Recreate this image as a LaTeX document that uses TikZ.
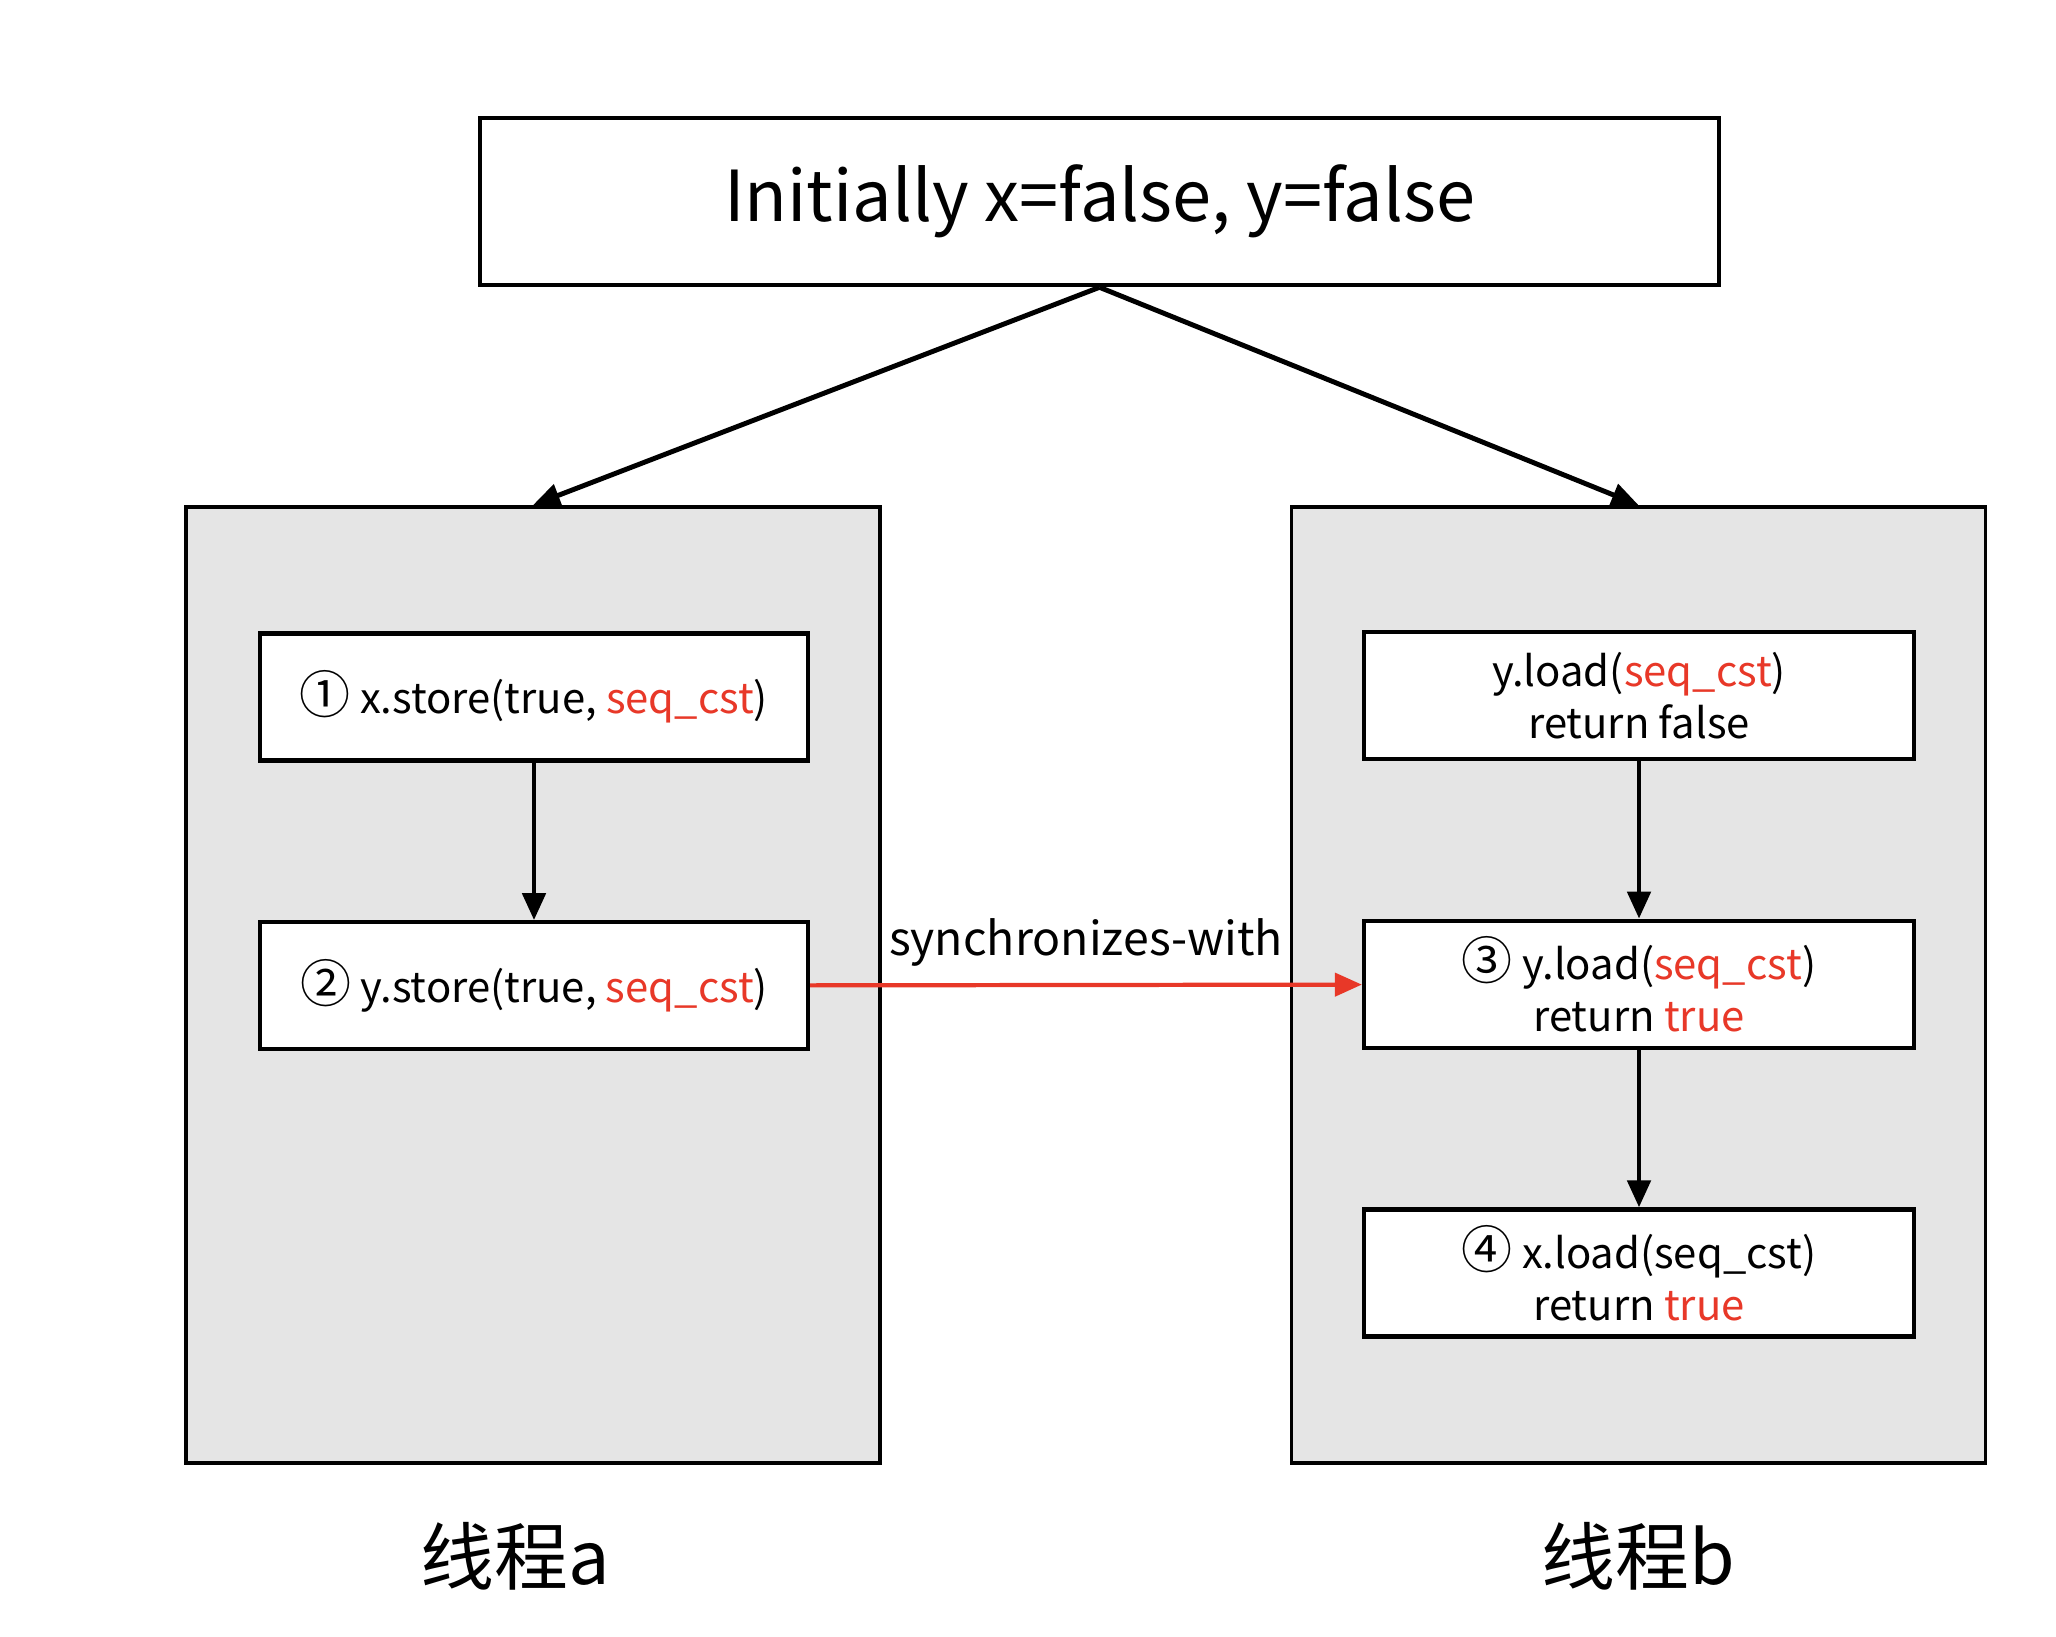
\documentclass[tikz,border=0pt]{standalone}
\usepackage{fontspec}
\setmainfont{Noto Sans CJK SC}
\usepackage{xcolor}
\usetikzlibrary{arrows.meta,positioning}
\definecolor{seqred}{RGB}{232,56,40}
\definecolor{thrgray}{RGB}{229,229,229}
\newcommand{\sq}[1]{\textcolor{seqred}{#1}}
\newcommand{\cnum}[1]{{\fontsize{14.5}{14.5}\selectfont #1}}

\begin{document}
\begin{tikzpicture}[node distance=1.575cm,
  >={Triangle[length=0.27cm,width=0.23cm]},
  initbox/.style={draw,line width=1.3pt,minimum width=12.39cm,minimum height=1.67cm,
                  font=\fontsize{20}{24}\selectfont},
  thread/.style={draw,line width=1.1pt,fill=thrgray,minimum width=6.94cm,
                 minimum height=9.56cm},
  op/.style={draw,line width=1.2pt,fill=white,minimum width=5.48cm,minimum height=1.27cm,
             align=center,inner sep=0pt,font=\fontsize{11.9}{14.8}\selectfont},
  flow/.style={->,line width=1.4pt},
  thrlabel/.style={font=\fontsize{21}{24}\selectfont}]
  \useasboundingbox (0,0) rectangle (20.56,-16.36);
  \node[initbox] (init) at (10.995,-2.015) {Initially x=false, y=false};
  \node[thread] (thra) at (5.33,-9.85) {};
  \node[thread] (thrb) at (16.385,-9.85) {};
  % thread a
  \node[op] (xst) at (5.34,-6.97) {\cnum{①} x.store(true, \sq{seq\_cst})};
  \node[op,below=of xst] (yst) {\cnum{②} y.store(true, \sq{seq\_cst})};
  % thread b
  \node[op,minimum width=5.5cm] (yld1) at (16.39,-6.955) {y.load(\sq{seq\_cst})\\return false};
  \node[op,minimum width=5.5cm,below=of yld1] (yld2) {\cnum{③} y.load(\sq{seq\_cst})\\return \sq{true}};
  \node[op,minimum width=5.5cm,below=of yld2] (xld) {\cnum{④} x.load(seq\_cst)\\return \sq{true}};
  \node[thrlabel,below=0.45cm of thra,xshift=-0.18cm] (laba) {线程a};
  \node[thrlabel,below=0.45cm of thrb] (labb) {线程b};
  \draw[flow] (init.south) -- (thra.north);
  \draw[flow] (init.south) -- (thrb.north);
  \draw[flow] (xst) -- (yst);
  \draw[flow] (yld1) -- (yld2);
  \draw[flow] (yld2) -- (xld);
  \draw[->,line width=1.2pt,seqred] (yst) -- (yld2)
    node[midway,above,text=black,font=\fontsize{13.2}{16}\selectfont,yshift=0.05cm] {synchronizes-with};
\end{tikzpicture}
\end{document}
